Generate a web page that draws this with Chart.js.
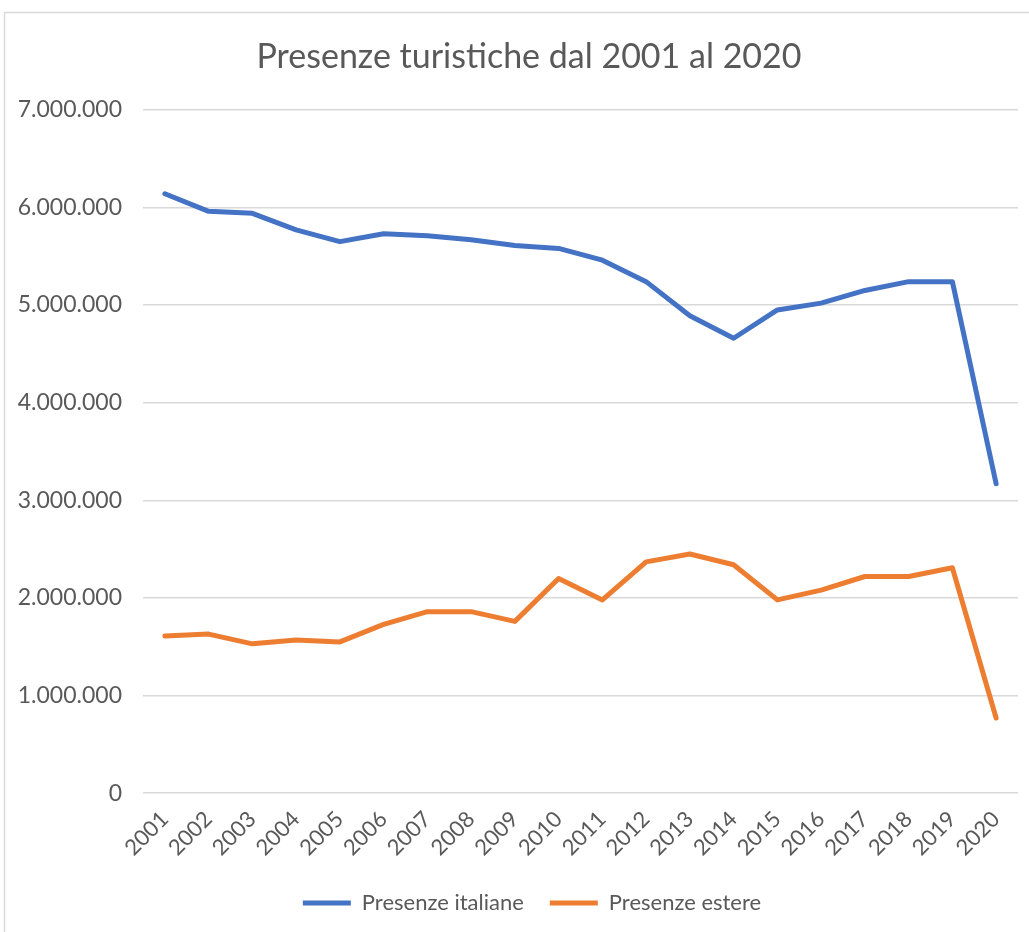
<!DOCTYPE html>
<html>
<head>
<meta charset="utf-8">
<script src="https://cdn.jsdelivr.net/npm/chart.js@4/dist/chart.umd.min.js"></script>
<style>
  html, body { margin: 0; padding: 0; background: #fff; overflow: hidden; }
  #wrap { width: 1029px; height: 932px; position: relative; }
</style>
</head>
<body>
<div id="wrap"><canvas id="myChart" width="1029" height="932"></canvas></div>
<script>
const years = ['2001', '2002', '2003', '2004', '2005', '2006', '2007', '2008', '2009', '2010',
    '2011', '2012', '2013', '2014', '2015', '2016', '2017', '2018', '2019', '2020'];

const presenzeItaliane = [6140000, 5960000, 5940000, 5770000, 5650000, 5730000, 5710000, 5670000, 5610000, 5580000,
    5460000, 5240000, 4890000, 4660000, 4950000, 5020000, 5150000, 5240000, 5240000, 3170000];

const presenzeEstere = [1610000, 1630000, 1530000, 1570000, 1550000, 1730000, 1860000, 1860000, 1760000, 2200000,
    1980000, 2370000, 2450000, 2340000, 1980000, 2080000, 2220000, 2220000, 2310000, 770000];

const yMax = 7000000;
const yStep = 1000000;

const textColor = '#595959';
const fontName = 'Lato, "Open Sans", sans-serif';

// punto come separatore delle migliaia
const formatIt = v => String(v).replace(/\B(?=(\d{3})+(?!\d))/g, '.');

const borderPlugin = {
    id: 'outerBorder',
    beforeDraw(chart) {
        const c = chart.ctx;
        c.save();
        c.fillStyle = '#fff';
        c.fillRect(0, 0, chart.width, chart.height);
        c.strokeStyle = '#d9d9d9';
        c.lineWidth = 1.5;
        c.strokeRect(4.5, 12.5, 1100, 1000);
        c.restore();
    }
};

// il riquadro originale prosegue oltre il bordo destro: titolo e legenda stanno un po' più a destra
const shiftPlugin = {
    id: 'shiftBlocks',
    afterLayout(chart) {
        chart.titleBlock.left += 15;
        chart.titleBlock.right += 15;
        chart.legend.left += 18;
        chart.legend.right += 18;
    }
};

const ctx = document.getElementById('myChart');
const myChart = new Chart(ctx, {
    type: 'line',
    data: {
        labels: years,
        datasets: [{
            label: 'Presenze italiane',
            data: presenzeItaliane,
            borderColor: '#4472C4',
            backgroundColor: '#4472C4',
            borderWidth: 5,
            pointRadius: 0,
            tension: 0,
            borderCapStyle: 'round',
            borderJoinStyle: 'round'
        },
        {
            label: 'Presenze estere',
            data: presenzeEstere,
            borderColor: '#ED7D31',
            backgroundColor: '#ED7D31',
            borderWidth: 5,
            pointRadius: 0,
            tension: 0,
            borderCapStyle: 'round',
            borderJoinStyle: 'round'
        }]
    },
    options: {
        responsive: false,
        animation: false,
        layout: {
            padding: { top: 20, left: 10, right: 11, bottom: 8 }
        },
        plugins: {
            title: {
                display: true,
                text: 'Presenze turistiche dal 2001 al 2020',
                color: textColor,
                font: { family: fontName, size: 34, weight: 'normal' },
                padding: { top: 17, bottom: 32 }
            },
            legend: {
                position: 'bottom',
                labels: {
                    color: textColor,
                    font: { family: fontName, size: 22 },
                    boxWidth: 48,
                    boxHeight: 5,
                    padding: 26,
                    generateLabels(chart) {
                        return Chart.defaults.plugins.legend.labels.generateLabels(chart).map(l => {
                            l.lineWidth = 0;
                            return l;
                        });
                    }
                }
            },
            tooltip: { enabled: false }
        },
        scales: {
            x: {
                offset: true,
                grid: { display: false },
                border: { display: false },
                ticks: {
                    color: textColor,
                    font: { family: fontName, size: 22 },
                    maxRotation: 45,
                    minRotation: 45,
                    padding: 5,
                    autoSkip: false
                }
            },
            y: {
                min: 0,
                max: yMax,
                afterFit(scale) { scale.width = 133; },
                grid: { color: '#d9d9d9', lineWidth: 1.5, drawTicks: false },
                border: { display: false },
                ticks: {
                    stepSize: yStep,
                    color: textColor,
                    font: { family: fontName, size: 23 },
                    padding: 21,
                    callback: v => formatIt(v)
                }
            }
        }
    },
    plugins: [borderPlugin, shiftPlugin]
});
</script>
</body>
</html>
